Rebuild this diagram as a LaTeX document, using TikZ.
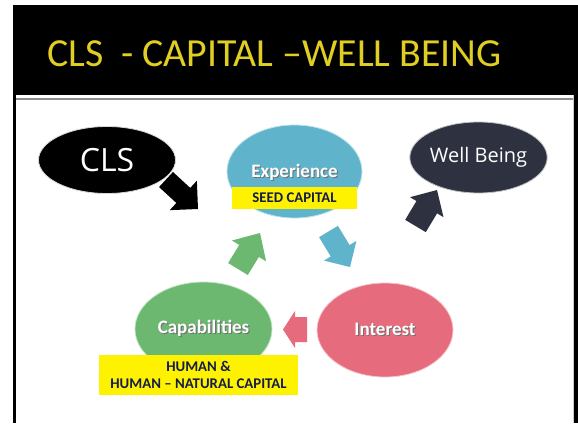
\documentclass[tikz,border=0pt]{standalone}
\usepackage{fontspec}
\setmainfont{Carlito}
\newfontfamily\uifont{Open Sans}
\usetikzlibrary{shapes.geometric,calc}

\definecolor{expblue}{HTML}{5FB4CC}
\definecolor{intpink}{HTML}{E56B7D}
\definecolor{capgreen}{HTML}{6CB870}
\definecolor{wbnavy}{HTML}{2E3140}
\definecolor{titlegold}{HTML}{E0CE22}
\definecolor{labelnavy}{HTML}{141C4A}
\definecolor{rulegray}{HTML}{8C8C8C}

% white text with a soft drop shadow
\newcommand\shadowed[1]{\makebox[0pt][l]{\raisebox{-1.2pt}{\hspace{1.2pt}\textcolor{black!55}{#1}}}\textcolor{white}{#1}}

% block arrow: colour, tail, tip, shaft half width, head half width, head length
\newcommand\blockarrow[6]{%
  \coordinate (ba-h) at ($(#3)!#6!(#2)$);
  \fill[#1] ($(#2)!#4!90:(#3)$) -- ($(ba-h)!#4!90:(#3)$) -- ($(ba-h)!#5!90:(#3)$)
    -- (#3) -- ($(ba-h)!#5!-90:(#3)$) -- ($(ba-h)!#4!-90:(#3)$)
    -- ($(#2)!#4!-90:(#3)$) -- cycle;}

\tikzset{
  bubble/.style={ellipse, inner sep=0pt, line width=0.8pt},
  tag/.style={fill=yellow, text=labelnavy, font=\bfseries\fontsize{14.8}{17}\selectfont,
    inner sep=0pt, align=center},
  cycletext/.style={font=\bfseries\fontsize{19}{22}\selectfont}
}

\begin{document}
\begin{tikzpicture}[x=1pt,y=-1pt]
\useasboundingbox (0,0) rectangle (578,423);
\fill[white] (0,0) rectangle (578,423);

% slide frame and title bar
\fill[black] (12.7,5) rectangle (578,95);
\fill[black] (12.7,95) rectangle (15.7,423);
\fill[black] (574,95) rectangle (578,423);
\fill[black!20] (572.8,95) rectangle (573.8,423);
\fill[rulegray] (15.7,97.7) rectangle (572.8,100);
\node[anchor=base west, inner sep=0pt, text=titlegold,
  font=\fontsize{39.8}{42}\selectfont] (title) at (47,66) {CLS \ - CAPITAL –WELL BEING};

% bubbles
\node[bubble, fill=black, draw=black!15, minimum width=137pt, minimum height=67pt,
  text=white, font=\uifont\fontsize{32}{36}\selectfont] (cls) at (107,160) {CLS};
\node[bubble, fill=expblue, draw=expblue!40!white, minimum width=135pt, minimum height=93pt,
  cycletext] (exp) at (294.5,171.5) {};
\node[cycletext, inner sep=0pt] (explabel) at (294.5,172.5) {\shadowed{Experience}};
\node[bubble, fill=wbnavy, draw=black!25, minimum width=137pt, minimum height=71pt,
  text=white, font=\uifont\fontsize{20}{24}\selectfont] (wb) at (478.5,157.5) {Well Being};
\node[bubble, fill=intpink, draw=intpink!40!white, minimum width=136pt, minimum height=94pt,
  cycletext] (int) at (385,330) {\shadowed{Interest}};
\node[bubble, fill=capgreen, draw=capgreen!40!white, minimum width=137pt, minimum height=94pt,
  cycletext] (cap) at (203.5,329) {\shadowed{Capabilities}};

% capital tags
\node[tag, minimum width=125pt, minimum height=22pt] (seed) at (294.5,198) {SEED CAPITAL};
\node[tag, minimum width=199pt, minimum height=40pt] (human) at (198.5,375)
  {HUMAN \&\\HUMAN – NATURAL CAPITAL};

% arrow end points
\coordinate (a1t) at (166,179.5); \coordinate (a1h) at (198,209);
\coordinate (a2t) at (328.5,231.5); \coordinate (a2h) at (350,267);
\coordinate (a3t) at (238,269); \coordinate (a3h) at (260,233);
\coordinate (a4t) at (307,329.5); \coordinate (a4h) at (283,329.5);
\coordinate (a5t) at (415.5,226); \coordinate (a5h) at (437,190);

% block arrows
\blockarrow{black}{a1t}{a1h}{10.25pt}{20pt}{20pt}
\blockarrow{expblue}{a2t}{a2h}{11pt}{19pt}{19pt}
\blockarrow{capgreen}{a3t}{a3h}{11.5pt}{20pt}{21pt}
\blockarrow{intpink}{a4t}{a4h}{12.5pt}{18.5pt}{12pt}
\blockarrow{wbnavy}{a5t}{a5h}{12pt}{19.5pt}{20pt}
\end{tikzpicture}
\end{document}
